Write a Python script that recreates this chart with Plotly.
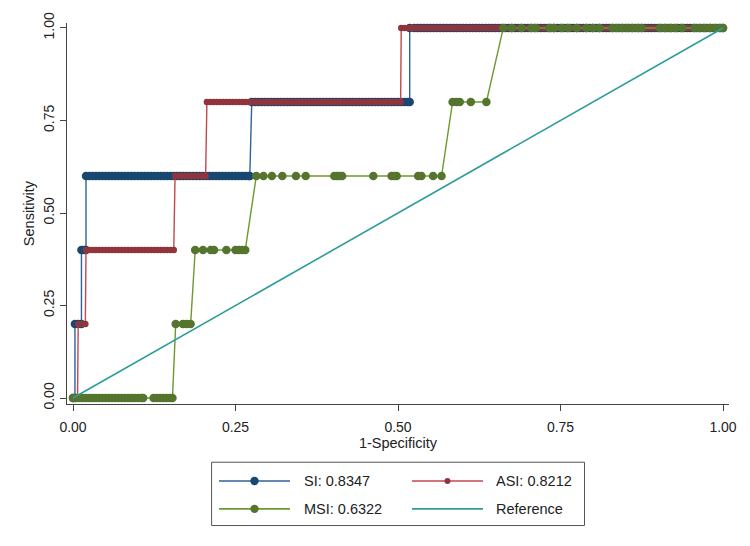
import plotly.graph_objects as go

# ---------------- data ----------------
# SI curve: false-positive rate values observed at each sensitivity level
si_at_000 = [0.000, 0.003]
si_at_020 = [0.003, 0.008, 0.013]
si_at_040 = [0.013, 0.017, 0.020]
si_at_060 = [0.020, 0.025, 0.030, 0.035, 0.040, 0.045, 0.050, 0.055, 0.060, 0.065,
             0.070, 0.075, 0.080, 0.085, 0.090, 0.095, 0.100, 0.105, 0.110, 0.115,
             0.120, 0.125, 0.130, 0.135, 0.140, 0.145, 0.150, 0.155, 0.160, 0.165,
             0.170, 0.175, 0.180, 0.185, 0.190, 0.195, 0.200, 0.205, 0.210, 0.215,
             0.220, 0.225, 0.230, 0.235, 0.240, 0.245, 0.250, 0.255, 0.260, 0.265,
             0.270, 0.272]
si_at_080 = [0.275, 0.280, 0.285, 0.290, 0.295, 0.300, 0.305, 0.310, 0.315, 0.320,
             0.325, 0.330, 0.335, 0.340, 0.345, 0.350, 0.355, 0.360, 0.365, 0.370,
             0.375, 0.380, 0.385, 0.390, 0.395, 0.400, 0.405, 0.410, 0.415, 0.420,
             0.425, 0.430, 0.435, 0.440, 0.445, 0.450, 0.455, 0.460, 0.465, 0.470,
             0.475, 0.480, 0.485, 0.490, 0.495, 0.500, 0.505, 0.510, 0.515, 0.518]
si_at_100 = [0.518, 0.525, 0.530, 0.535, 0.540, 0.545, 0.550, 0.555, 0.560, 0.565,
             0.570, 0.575, 0.580, 0.585, 0.590, 0.595, 0.600, 0.605, 0.610, 0.615,
             0.620, 0.625, 0.630, 0.635, 0.640, 0.645, 0.650, 0.655, 0.660, 0.665,
             0.670, 0.675, 0.680, 0.685, 0.690, 0.695, 0.700, 0.705, 0.710, 0.715,
             0.720, 0.725, 0.730, 0.735, 0.740, 0.745, 0.750, 0.755, 0.760, 0.765,
             0.770, 0.775, 0.780, 0.785, 0.790, 0.795, 0.800, 0.805, 0.810, 0.815,
             0.820, 0.825, 0.830, 0.835, 0.840, 0.845, 0.850, 0.855, 0.860, 0.865,
             0.870, 0.875, 0.880, 0.885, 0.890, 0.895, 0.900, 0.905, 0.910, 0.915,
             0.920, 0.925, 0.930, 0.935, 0.940, 0.945, 0.950, 0.955, 0.960, 0.965,
             0.970, 0.975, 0.980, 0.985, 0.990, 0.995, 1.000]

# ASI curve
asi_at_000 = [0.000, 0.007]
asi_at_020 = [0.008, 0.014, 0.019]
asi_at_040 = [0.020, 0.025, 0.030, 0.035, 0.040, 0.045, 0.050, 0.055, 0.060, 0.065,
              0.070, 0.075, 0.080, 0.085, 0.090, 0.095, 0.100, 0.105, 0.110, 0.115,
              0.120, 0.125, 0.130, 0.135, 0.140, 0.145, 0.150, 0.155]
asi_at_060 = [0.157, 0.162, 0.167, 0.172, 0.177, 0.182, 0.187, 0.192, 0.197, 0.202,
              0.204]
asi_at_080 = [0.206, 0.211, 0.216, 0.221, 0.226, 0.231, 0.236, 0.241, 0.246, 0.251,
              0.256, 0.261, 0.266, 0.271, 0.276, 0.281, 0.286, 0.291, 0.296, 0.301,
              0.306, 0.311, 0.316, 0.321, 0.326, 0.331, 0.336, 0.341, 0.346, 0.351,
              0.356, 0.361, 0.366, 0.371, 0.376, 0.381, 0.386, 0.391, 0.396, 0.401,
              0.406, 0.411, 0.416, 0.421, 0.426, 0.431, 0.436, 0.441, 0.446, 0.451,
              0.456, 0.461, 0.466, 0.471, 0.476, 0.481, 0.486, 0.491, 0.496, 0.501,
              0.504]
asi_at_100 = [0.505, 0.510, 0.515, 0.520, 0.525, 0.530, 0.535, 0.540, 0.545, 0.550,
              0.555, 0.560, 0.565, 0.570, 0.575, 0.580, 0.585, 0.590, 0.595, 0.600,
              0.605, 0.610, 0.615, 0.620, 0.625, 0.630, 0.635, 0.640, 0.645, 0.650,
              0.655, 0.660, 0.665, 0.670, 0.675, 0.680, 0.685, 0.690, 0.695, 0.700,
              0.705, 0.710, 0.715, 0.720, 0.725, 0.730, 0.735, 0.740, 0.745, 0.750,
              0.755, 0.760, 0.765, 0.770, 0.775, 0.780, 0.785, 0.790, 0.795, 0.800,
              0.805, 0.810, 0.815, 0.820, 0.825, 0.830, 0.835, 0.840, 0.845, 0.850,
              0.855, 0.860, 0.865, 0.870, 0.875, 0.880, 0.885, 0.890, 0.895, 0.900,
              0.905, 0.910, 0.915, 0.920, 0.925, 0.930, 0.935, 0.940, 0.945, 0.950,
              0.955, 0.960, 0.965, 0.970, 0.975, 0.980, 0.985, 0.990, 0.995, 1.000]

# MSI curve
msi_at_000 = [0.000, 0.005, 0.010, 0.015, 0.020, 0.025, 0.030, 0.035, 0.040, 0.045,
              0.050, 0.055, 0.060, 0.065, 0.070, 0.075, 0.080, 0.085, 0.090, 0.095,
              0.100, 0.105, 0.108, 0.124, 0.129, 0.134, 0.139, 0.144, 0.149, 0.153]
msi_at_020 = [0.158, 0.169, 0.175, 0.181]
msi_at_040 = [0.188, 0.200, 0.212, 0.217, 0.236, 0.250, 0.255, 0.260, 0.265]
msi_at_060 = [0.282, 0.293, 0.306, 0.322, 0.343, 0.358, 0.402, 0.406, 0.410, 0.414,
              0.462, 0.490, 0.494, 0.498, 0.531, 0.536, 0.554, 0.567]
msi_at_080 = [0.584, 0.590, 0.595, 0.612, 0.636]
msi_at_100 = [0.662, 0.675, 0.690, 0.705, 0.712, 0.733, 0.740, 0.752, 0.762, 0.775,
              0.790, 0.800, 0.810, 0.830, 0.837, 0.845, 0.853, 0.861, 0.869, 0.875,
              0.903, 0.911, 0.919, 0.927, 0.937, 0.956, 0.964, 0.972, 0.980, 0.988,
              0.996, 1.000]

sens_levels = [0.0, 0.2, 0.4, 0.6, 0.8, 1.0]
ref_fpr = [0.0, 1.0]
ref_tpr = [0.0, 1.0]

series_names = ["SI: 0.8347", "ASI: 0.8212", "MSI: 0.6322", "Reference"]
x_ticks = [0.0, 0.25, 0.5, 0.75, 1.0]
x_tick_labels = ["0.00", "0.25", "0.50", "0.75", "1.00"]
y_ticks = [0.0, 0.25, 0.5, 0.75, 1.0]
y_tick_labels = ["0.00", "0.25", "0.50", "0.75", "1.00"]


def build_curve(groups):
    xs, ys = [], []
    for lvl, grp in zip(sens_levels, groups):
        xs += grp
        ys += [lvl] * len(grp)
    return xs, ys


si_fpr, si_tpr = build_curve([si_at_000, si_at_020, si_at_040, si_at_060, si_at_080, si_at_100])
asi_fpr, asi_tpr = build_curve([asi_at_000, asi_at_020, asi_at_040, asi_at_060, asi_at_080, asi_at_100])
msi_fpr, msi_tpr = build_curve([msi_at_000, msi_at_020, msi_at_040, msi_at_060, msi_at_080, msi_at_100])

# ---------------- styling ----------------
W, H = 750, 546
ML, MR, MT, MB = 67, 21, 20, 142
FONT = "Liberation Sans, Arial, sans-serif"
TXT = "#222222"

BLUE_M, BLUE_L = "#1a476f", "#2f629a"
RED_M, RED_L = "#90353b", "#c4474f"
GRN_M, GRN_L = "#55752f", "#6b9a2c"
TEAL = "#2e9c9c"

fig = go.Figure()
fig.add_trace(go.Scatter(x=si_fpr, y=si_tpr, mode="lines+markers", name=series_names[0],
                         line=dict(color=BLUE_L, width=1.4),
                         marker=dict(color=BLUE_M, size=8.5, line=dict(width=0)),
                         showlegend=False))
fig.add_trace(go.Scatter(x=asi_fpr, y=asi_tpr, mode="lines+markers", name=series_names[1],
                         line=dict(color=RED_L, width=1.4),
                         marker=dict(color=RED_M, size=6.5, line=dict(width=0)),
                         showlegend=False))
fig.add_trace(go.Scatter(x=msi_fpr, y=msi_tpr, mode="lines+markers", name=series_names[2],
                         line=dict(color=GRN_L, width=1.4),
                         marker=dict(color=GRN_M, size=8.5, line=dict(width=0)),
                         showlegend=False))
fig.add_trace(go.Scatter(x=ref_fpr, y=ref_tpr, mode="lines", name=series_names[3],
                         line=dict(color=TEAL, width=1.6), showlegend=False))

# ---------------- custom legend (layout shapes + text) ----------------
pw, ph = W - ML - MR, H - MT - MB


def xp(px):
    return (px - ML) / pw


def yp(py):
    return (H - MB - py) / ph


box = (211.6, 462.7, 584.5, 526.5)
rows = [481.6, 509.7]
cols = [(219, 290, 301.6), (412, 483, 494)]
entries = [
    (series_names[0], BLUE_L, BLUE_M, 4.2, 0, 0),
    (series_names[1], RED_L, RED_M, 3.0, 0, 1),
    (series_names[2], GRN_L, GRN_M, 4.2, 1, 0),
    (series_names[3], TEAL, None, 0, 1, 1),
]
shapes = [dict(type="rect", xref="paper", yref="paper",
               x0=xp(box[0]), x1=xp(box[2]), y0=yp(box[3]), y1=yp(box[1]),
               line=dict(color="#555555", width=1), fillcolor="rgba(0,0,0,0)")]
annotations = []
for name, lc, mc, r, ri, ci in entries:
    x0, x1, xt = cols[ci]
    yy = rows[ri]
    shapes.append(dict(type="line", xref="paper", yref="paper",
                       x0=xp(x0), x1=xp(x1), y0=yp(yy), y1=yp(yy),
                       line=dict(color=lc, width=1.6)))
    if mc:
        shapes.append(dict(type="circle", xref="paper", yref="paper",
                           xsizemode="pixel", ysizemode="pixel",
                           xanchor=xp((x0 + x1) / 2), yanchor=yp(yy),
                           x0=-r, x1=r, y0=-r, y1=r,
                           fillcolor=mc, line=dict(width=0)))
    annotations.append(dict(xref="paper", yref="paper", x=xp(xt), y=yp(yy),
                            text=name, showarrow=False, xanchor="left", yanchor="middle",
                            font=dict(family=FONT, size=14.5, color=TXT)))

fig.update_layout(
    width=W, height=H,
    margin=dict(l=ML, r=MR, t=MT, b=MB, pad=0),
    paper_bgcolor="white", plot_bgcolor="white",
    font=dict(family=FONT, size=14, color=TXT),
    showlegend=False,
    shapes=shapes,
    annotations=annotations,
    xaxis=dict(range=[-6 / 650, 1 + 6 / 650], tickvals=x_ticks, ticktext=x_tick_labels,
               showgrid=False, zeroline=False, showline=True, linecolor="#444444",
               linewidth=1, ticks="outside", ticklen=6, tickcolor="#444444",
               ticklabelstandoff=4, automargin=True,
               tickfont=dict(size=14),
               title=dict(text="1-Specificity", font=dict(size=14.5), standoff=1)),
    yaxis=dict(range=[-6 / 373, 1 + 5 / 373], tickvals=y_ticks, ticktext=y_tick_labels,
               showgrid=False, zeroline=False, showline=True, linecolor="#444444",
               linewidth=1, ticks="outside", ticklen=6, tickcolor="#444444",
               tickangle=-90, tickfont=dict(size=14), automargin=True,
               title=dict(text="Sensitivity", font=dict(size=14.5), standoff=3)),
)

fig.write_html("out.html")
